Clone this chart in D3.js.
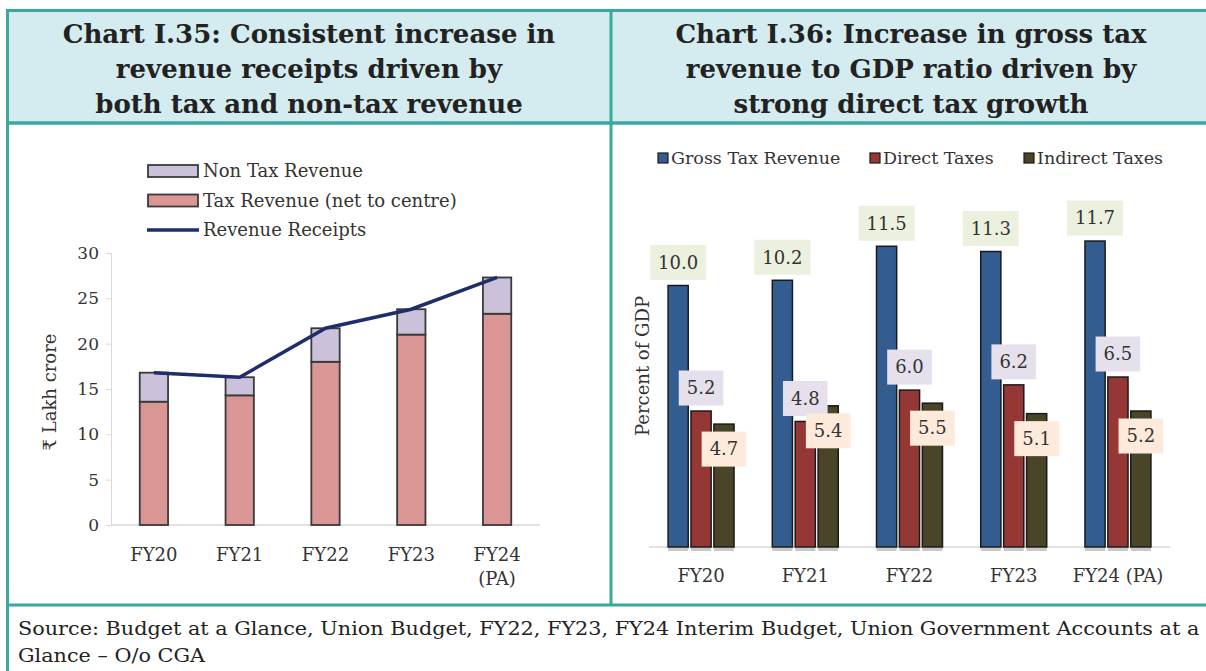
<!DOCTYPE html>
<html>
<head>
<meta charset="utf-8">
<script src="https://cdn.jsdelivr.net/npm/d3@7"></script>
<style>
  body { margin: 0; background: #fff; }
  svg { display: block; }
</style>
</head>
<body>
<svg id="chart" width="1206" height="671"></svg>
<script>
// ---- data ----
var years = ['FY20', 'FY21', 'FY22', 'FY23', 'FY24 (PA)'];
var taxRevenue = [13.6, 14.3, 18.0, 21.0, 23.3];
var nonTaxRevenue = [3.2, 2.0, 3.7, 2.8, 4.0];
var revenueReceipts = [16.8, 16.3, 21.7, 23.8, 27.3];
var leftTicks = [0, 5, 10, 15, 20, 25, 30];

var seriesNames = ['Gross Tax Revenue', 'Direct Taxes', 'Indirect Taxes'];
var grossTax = [10.0, 10.2, 11.5, 11.3, 11.7];
var directTax = [5.2, 4.8, 6.0, 6.2, 6.5];
var indirectTax = [4.7, 5.4, 5.5, 5.1, 5.2];

var leftTitle = ['Chart I.35: Consistent increase in', 'revenue receipts driven by', 'both tax and non-tax revenue'];
var rightTitle = ['Chart I.36: Increase in gross tax', 'revenue to GDP ratio driven by', 'strong direct tax growth'];
var sourceLines = ['Source: Budget at a Glance, Union Budget, FY22, FY23, FY24 Interim Budget, Union Government Accounts at a',
                   'Glance \u2013 O/o CGA'];

// ---- style ----
var SERIF = '"DejaVu Serif", "Liberation Serif", serif';
var TEXT_COLOR = '#333';
var FRAME = '#3aa89c';
var HEADER_BG = '#d4ecef';
var TAX_COLOR = '#d99694';
var NONTAX_COLOR = '#ccc1da';
var LINE_COLOR = '#1f2d6b';
var BAR_COLORS = ['#335d91', '#953735', '#4a4528'];
var LABEL_BG = ['#ebf1de', '#e6e0ec', '#fdeada'];

var svg = d3.select('#chart');

// ---- frame ----
svg.append('rect').attr('x', 7).attr('y', 10).attr('width', 1206).attr('height', 113)
    .attr('fill', HEADER_BG);
svg.append('rect').attr('x', 7.5).attr('y', 10.5).attr('width', 1210).attr('height', 700)
    .attr('fill', 'none').attr('stroke', FRAME).attr('stroke-width', 3);
svg.append('line').attr('x1', 7).attr('x2', 1206).attr('y1', 123).attr('y2', 123)
    .attr('stroke', FRAME).attr('stroke-width', 3.5);
svg.append('line').attr('x1', 611).attr('x2', 611).attr('y1', 10).attr('y2', 605)
    .attr('stroke', FRAME).attr('stroke-width', 3);
svg.append('line').attr('x1', 7).attr('x2', 1206).attr('y1', 605).attr('y2', 605)
    .attr('stroke', FRAME).attr('stroke-width', 3);

var drawTitle = function(lines, cx) {
    svg.selectAll(null).data(lines).enter().append('text')
        .attr('x', cx)
        .attr('y', function(d, i) { return 43 + i * 35; })
        .attr('text-anchor', 'middle')
        .style('font-family', SERIF)
        .style('font-weight', 'bold')
        .style('font-size', '26px')
        .style('fill', '#222')
        .text(function(d) { return d; });
};
drawTitle(leftTitle, 309);
drawTitle(rightTitle, 911);

// source note, fitted to the width of the original line
var src = svg.append('g');
src.selectAll(null).data(sourceLines).enter().append('text')
    .attr('x', 0)
    .attr('y', function(d, i) { return 635 + i * 27; })
    .style('font-family', SERIF)
    .style('font-size', '18.5px')
    .style('fill', '#222')
    .text(function(d) { return d; });
var srcW = src.select('text').node().getComputedTextLength();
src.attr('transform', 'translate(18,0) scale(' + (1182 / srcW) + ',1)');

// ---- left chart ----
var xL = d3.scaleBand().domain(years).range([111, 540]).paddingInner(0.67).paddingOuter(0.335);
var yL = d3.scaleLinear().domain([0, 30]).range([525, 253]);

var gL = svg.append('g');

var yAxisL = gL.append('g').attr('transform', 'translate(111,0)')
    .call(d3.axisLeft(yL).tickValues(leftTicks).tickSize(5).tickPadding(7));
yAxisL.select('.domain').attr('stroke', '#d9d9d9');
yAxisL.selectAll('.tick line').attr('stroke', '#d9d9d9');
yAxisL.selectAll('.tick text')
    .style('font-family', SERIF).style('font-size', '17px').style('fill', TEXT_COLOR);

gL.append('line').attr('x1', 111).attr('x2', 540).attr('y1', yL(0)).attr('y2', yL(0))
    .attr('stroke', '#d9d9d9').attr('stroke-width', 1.5);

gL.selectAll('.tax').data(years).enter().append('rect')
    .attr('x', function(d) { return xL(d); })
    .attr('width', xL.bandwidth())
    .attr('y', function(d, i) { return yL(taxRevenue[i]); })
    .attr('height', function(d, i) { return yL(0) - yL(taxRevenue[i]); })
    .attr('fill', TAX_COLOR).attr('stroke', '#3a3a3a').attr('stroke-width', 1.8);

gL.selectAll('.nontax').data(years).enter().append('rect')
    .attr('x', function(d) { return xL(d); })
    .attr('width', xL.bandwidth())
    .attr('y', function(d, i) { return yL(taxRevenue[i] + nonTaxRevenue[i]); })
    .attr('height', function(d, i) { return yL(taxRevenue[i]) - yL(taxRevenue[i] + nonTaxRevenue[i]); })
    .attr('fill', NONTAX_COLOR).attr('stroke', '#3a3a3a').attr('stroke-width', 1.8);

var line = d3.line()
    .x(function(d, i) { return xL(years[i]) + xL.bandwidth() / 2; })
    .y(function(d) { return yL(d); });
gL.append('path').datum(revenueReceipts).attr('d', line)
    .attr('fill', 'none').attr('stroke', LINE_COLOR).attr('stroke-width', 3.5);

// x labels (left: FY24 split over two lines)
years.forEach(function(d) {
    var parts = d.split(' ');
    var t = gL.append('text')
        .attr('x', xL(d) + xL.bandwidth() / 2)
        .attr('y', 561)
        .attr('text-anchor', 'middle')
        .style('font-family', SERIF).style('font-size', '18px').style('fill', TEXT_COLOR);
    parts.forEach(function(p, i) {
        t.append('tspan').attr('x', xL(d) + xL.bandwidth() / 2).attr('dy', i ? 24 : 0).text(p);
    });
});

gL.append('text')
    .attr('transform', 'translate(56,392) rotate(-90)')
    .attr('text-anchor', 'middle')
    .style('font-family', SERIF).style('font-size', '18px').style('fill', TEXT_COLOR)
    .text('\u20b9 Lakh crore');

// left legend
var legL = [
    {name: 'Non Tax Revenue', color: NONTAX_COLOR, type: 'rect'},
    {name: 'Tax Revenue (net to centre)', color: TAX_COLOR, type: 'rect'},
    {name: 'Revenue Receipts', color: LINE_COLOR, type: 'line'}
];
legL.forEach(function(d, i) {
    var cy = 171 + i * 29.5;
    if (d.type === 'rect') {
        gL.append('rect').attr('x', 148).attr('y', cy - 6).attr('width', 50).attr('height', 12)
            .attr('fill', d.color).attr('stroke', '#3a3a3a').attr('stroke-width', 1.8);
    } else {
        gL.append('line').attr('x1', 147).attr('x2', 199).attr('y1', cy).attr('y2', cy)
            .attr('stroke', d.color).attr('stroke-width', 3.5);
    }
    gL.append('text').attr('x', 203).attr('y', cy).attr('dy', '0.35em')
        .style('font-family', SERIF).style('font-size', '18px').style('fill', TEXT_COLOR)
        .text(d.name);
});

// ---- right chart ----
var seriesValues = [grossTax, directTax, indirectTax];
var xR = d3.scaleBand().domain(years).range([649, 1170]).paddingInner(0.367).paddingOuter(0.183);
var xS = d3.scaleBand().domain(seriesNames).range([0, xR.bandwidth()]).paddingInner(0.12);
var yR = d3.scaleLinear().domain([0, 10]).range([547, 285.5]);

var gR = svg.append('g');

gR.append('line').attr('x1', 649).attr('x2', 1170).attr('y1', yR(0)).attr('y2', yR(0))
    .attr('stroke', '#d9d9d9').attr('stroke-width', 1.5);

seriesNames.forEach(function(s, si) {
    var vals = seriesValues[si];
    // shadow stubs under bars
    gR.selectAll(null).data(years).enter().append('rect')
        .attr('x', function(d) { return xR(d) + xS(s); })
        .attr('y', yR(0) + 1)
        .attr('width', xS.bandwidth())
        .attr('height', 3)
        .attr('fill', '#c8c8c8');
    gR.selectAll(null).data(years).enter().append('rect')
        .attr('x', function(d) { return xR(d) + xS(s); })
        .attr('y', function(d, i) { return yR(vals[i]); })
        .attr('width', xS.bandwidth())
        .attr('height', function(d, i) { return yR(0) - yR(vals[i]); })
        .attr('fill', BAR_COLORS[si]).attr('stroke', '#1a1a1a').attr('stroke-width', 1.5);
});

// data labels
seriesNames.forEach(function(s, si) {
    var vals = seriesValues[si];
    years.forEach(function(d, i) {
        var cx = xR(d) + xS(s) + xS.bandwidth() / 2;
        var cy = si === 2 ? yR(vals[i]) + 25 : yR(vals[i]) - 23;
        if (si === 1) cx = xR(d) + xR.bandwidth() / 2;
        var g = gR.append('g');
        var bg = g.append('rect').attr('fill', LABEL_BG[si]);
        var t = g.append('text').attr('x', cx).attr('y', cy).attr('dy', '0.35em')
            .attr('text-anchor', 'middle')
            .style('font-family', SERIF).style('font-size', '18px').style('fill', TEXT_COLOR)
            .text(vals[i].toFixed(1));
        var w = t.node().getComputedTextLength() + 16;
        bg.attr('x', cx - w / 2).attr('y', cy - 17.5).attr('width', w).attr('height', 35);
    });
});

gR.selectAll(null).data(years).enter().append('text')
    .attr('x', function(d) { return xR(d) + xR.bandwidth() / 2; })
    .attr('y', 582)
    .attr('text-anchor', 'middle')
    .style('font-family', SERIF).style('font-size', '18px').style('fill', TEXT_COLOR)
    .text(function(d) { return d; });

gR.append('text')
    .attr('transform', 'translate(649,366) rotate(-90)')
    .attr('text-anchor', 'middle')
    .style('font-family', SERIF).style('font-size', '18px').style('fill', TEXT_COLOR)
    .text('Percent of GDP');

// right legend
var legX = [658, 870, 1024];
seriesNames.forEach(function(s, si) {
    gR.append('rect').attr('x', legX[si]).attr('y', 153).attr('width', 10).attr('height', 10)
        .attr('fill', BAR_COLORS[si]).attr('stroke', '#1a1a1a').attr('stroke-width', 1.2);
    gR.append('text').attr('x', legX[si] + 13).attr('y', 158).attr('dy', '0.35em')
        .style('font-family', SERIF).style('font-size', '17.5px').style('fill', TEXT_COLOR)
        .text(s);
});
</script>
</body>
</html>
